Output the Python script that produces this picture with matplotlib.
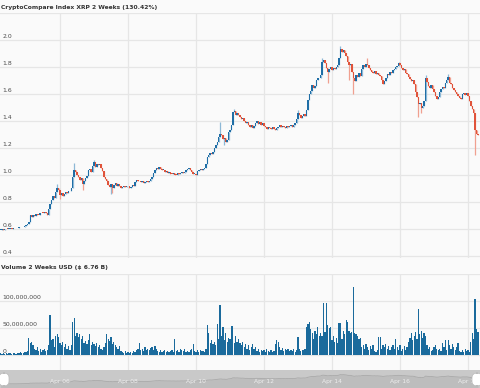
import matplotlib
matplotlib.use("Agg")
import matplotlib.pyplot as plt
from matplotlib.patches import FancyBboxPatch
import numpy as np

# ---------------- data ----------------
title = "CryptoCompare Index XRP 2 Weeks (130.42%)"
vol_title = "Volume 2 Weeks USD ($ 6.76 B)"
first_open = 0.592
closes = [
    0.595, 0.598, 0.594, 0.597, 0.600, 0.598, 0.601, 0.603, 0.600, 0.604,
    0.606, 0.604, 0.608, 0.611, 0.615, 0.612, 0.618, 0.622, 0.626, 0.637,
    0.648, 0.700, 0.690, 0.705, 0.698, 0.712, 0.706, 0.702, 0.715, 0.722,
    0.718, 0.724, 0.716, 0.700, 0.745, 0.785, 0.815, 0.842, 0.830, 0.872,
    0.905, 0.888, 0.852, 0.866, 0.848, 0.862, 0.875, 0.868, 0.882, 0.878,
    0.905, 0.985, 1.040, 1.025, 1.002, 0.985, 0.962, 0.978, 0.935, 0.952,
    0.975, 0.990, 1.035, 1.042, 1.025, 1.068, 1.095, 1.062, 1.080, 1.072,
    1.078, 1.055, 1.030, 0.985, 0.968, 0.952, 0.925, 0.910, 0.935, 0.902,
    0.925, 0.938, 0.918, 0.932, 0.920, 0.905, 0.912, 0.922, 0.908, 0.915,
    0.918, 0.905, 0.912, 0.925, 0.918, 0.948, 0.965, 0.952, 0.958, 0.945,
    0.952, 0.942, 0.948, 0.955, 0.945, 0.952, 0.968, 0.985, 1.012, 1.038,
    1.052, 1.045, 1.062, 1.048, 1.035, 1.040, 1.022, 1.028, 1.015, 1.022,
    1.010, 1.005, 1.018, 1.002, 0.998, 1.012, 1.005, 1.018, 1.022, 1.015,
    1.025, 1.038, 1.045, 1.052, 1.040, 1.022, 1.005, 1.010, 1.002, 1.028,
    1.035, 1.042, 1.038, 1.048, 1.055, 1.082, 1.135, 1.148, 1.165, 1.155,
    1.172, 1.198, 1.225, 1.248, 1.285, 1.302, 1.295, 1.265, 1.272, 1.248,
    1.262, 1.318, 1.335, 1.372, 1.465, 1.472, 1.448, 1.462, 1.445, 1.428,
    1.415, 1.425, 1.402, 1.385, 1.392, 1.372, 1.355, 1.368, 1.348, 1.362,
    1.385, 1.402, 1.378, 1.392, 1.372, 1.385, 1.362, 1.355, 1.342, 1.358,
    1.345, 1.338, 1.352, 1.342, 1.335, 1.348, 1.355, 1.368, 1.352, 1.362,
    1.358, 1.348, 1.365, 1.352, 1.362, 1.372, 1.358, 1.368, 1.382, 1.418,
    1.462, 1.448, 1.425, 1.438, 1.452, 1.440, 1.478, 1.552, 1.598, 1.625,
    1.668, 1.648, 1.662, 1.705, 1.722, 1.715, 1.742, 1.835, 1.852, 1.828,
    1.795, 1.762, 1.785, 1.802, 1.778, 1.792, 1.785, 1.798, 1.812, 1.865,
    1.935, 1.912, 1.925, 1.905, 1.885, 1.838, 1.812, 1.825, 1.765, 1.718,
    1.695, 1.742, 1.725, 1.752, 1.735, 1.782, 1.812, 1.798, 1.825, 1.815,
    1.792, 1.775, 1.762, 1.752, 1.768, 1.745, 1.758, 1.742, 1.735, 1.705,
    1.672, 1.698, 1.722, 1.745, 1.738, 1.762, 1.755, 1.778, 1.785, 1.798,
    1.805, 1.828, 1.812, 1.792, 1.775, 1.782, 1.758, 1.745, 1.728, 1.712,
    1.698, 1.705, 1.675, 1.612, 1.575, 1.528, 1.535, 1.495, 1.512, 1.548,
    1.715, 1.692, 1.662, 1.648, 1.668, 1.635, 1.612, 1.585, 1.565, 1.578,
    1.612, 1.638, 1.655, 1.648, 1.678, 1.705, 1.728, 1.685, 1.672, 1.648,
    1.632, 1.615, 1.598, 1.585, 1.572, 1.562, 1.598, 1.605, 1.592, 1.608,
    1.582, 1.545, 1.512, 1.488, 1.462, 1.332, 1.305, 1.298,
]
# notable wick extremes: candle index -> price
wick_highs = {40: 0.93, 52: 1.09, 66: 1.11, 155: 1.39, 165: 1.49, 210: 1.48,
              227: 1.87, 240: 1.955, 259: 1.87, 281: 1.84, 300: 1.74, 316: 1.745}
wick_lows = {42: 0.82, 58: 0.89, 78: 0.86, 79: 0.87, 158: 1.22, 231: 1.68,
             246: 1.70, 249: 1.60, 295: 1.43, 297: 1.46, 335: 1.15}
volumes_m = [
    3, 2, 4, 2, 3, 2, 3, 4, 2, 3,
    3, 2, 4, 3, 5, 3, 4, 6, 5, 7,
    31, 22, 24, 18, 12, 9, 14, 8, 11, 6,
    9, 12, 8, 10, 18, 74, 28, 30, 15, 35,
    38, 33, 22, 18, 25, 14, 20, 12, 16, 10,
    18, 61, 69, 35, 40, 33, 38, 30, 36, 22,
    26, 20, 28, 38, 18, 24, 20, 16, 22, 15,
    18, 12, 10, 14, 22, 38, 30, 26, 34, 20,
    24, 18, 15, 12, 16, 8, 6, 4, 7, 3,
    5, 3, 6, 4, 8, 5, 9, 12, 22, 10,
    12, 8, 14, 10, 11, 9, 13, 15, 10, 17,
    12, 8, 6, 9, 5, 7, 10, 6, 8, 5,
    7, 9, 6, 30, 8, 10, 6, 12, 9, 7,
    11, 5, 8, 6, 9, 12, 20, 8, 6, 10,
    5, 9, 7, 8, 6, 12, 56, 40, 22, 28,
    20, 24, 18, 57, 30, 93, 35, 52, 28, 40,
    25, 32, 30, 54, 54, 22, 35, 25, 30, 22,
    18, 25, 15, 20, 12, 18, 10, 15, 20, 12,
    14, 8, 12, 6, 10, 7, 9, 5, 11, 8,
    6, 9, 5, 8, 20, 28, 24, 15, 10, 13,
    8, 12, 9, 11, 7, 10, 8, 12, 6, 10,
    34, 12, 8, 10, 9, 11, 52, 58, 62, 48,
    40, 30, 45, 38, 52, 36, 40, 35, 96, 42,
    96, 55, 50, 52, 28, 35, 25, 32, 22, 59,
    59, 30, 45, 38, 65, 62, 44, 40, 42, 126,
    40, 38, 35, 30, 32, 15, 18, 12, 20, 14,
    10, 16, 12, 18, 8, 5, 9, 34, 34, 12,
    18, 15, 20, 12, 16, 10, 14, 18, 12, 30,
    15, 10, 18, 8, 12, 16, 10, 14, 25, 32,
    40, 28, 35, 43, 30, 86, 38, 45, 32, 40,
    35, 18, 12, 15, 8, 10, 14, 18, 12, 9,
    12, 8, 22, 15, 28, 10, 28, 18, 12, 20,
    15, 10, 14, 22, 8, 6, 10, 5, 12, 7,
    9, 6, 25, 40, 30, 103, 48, 42,
]
start_hour = -42  # hours relative to Apr 06 00:00
date_labels = ["Apr 06", "Apr 08", "Apr 10", "Apr 12", "Apr 14", "Apr 16", "Apr 18"]
date_hours = [0, 48, 96, 144, 192, 240, 288]
price_ticks = [0.4, 0.6, 0.8, 1.0, 1.2, 1.4, 1.6, 1.8, 2.0]
vol_ticks = [0, 50e6, 100e6]
vol_tick_labels = ["0", "50,000,000", "100,000,000"]

# ---------------- figure ----------------
W, H = 480, 388
BG = "#fafafa"
GRID = "#e6e6e6"
UP, DOWN = "#1f6ea6", "#e0533a"
UPW, DOWNW = "#8db8d6", "#f0a090"
VOLC = "#1a6a9c"
LBL = "#4a4a4a"

plt.rcParams['font.family'] = ['DejaVu Sans']
fig = plt.figure(figsize=(W / 100, H / 100), dpi=100, facecolor=BG)

def ax_at(x0, y0, x1, y1):
    return fig.add_axes([x0 / W, 1 - y1 / H, (x1 - x0) / W, (y1 - y0) / H])

n = len(closes)
hours = np.arange(n) + start_hour
opens = np.array([first_open] + closes[:-1])
cl = np.array(closes)
highs = np.maximum(opens, cl)
lows = np.minimum(opens, cl)
for k, v in wick_highs.items():
    highs[k] = v
for k, v in wick_lows.items():
    lows[k] = v
up = cl >= opens

XL = (-42.35, 296.47)
xlab = 2.5 / 480 * (XL[1] - XL[0]) + XL[0]

# price panel
ax = ax_at(0, 13, 480, 258)
ax.set_facecolor(BG)
ax.set_xlim(*XL)
ax.set_ylim(0.385, 2.2)
for s in ax.spines.values():
    s.set_visible(False)
ax.set_xticks([]); ax.set_yticks([])
for t in price_ticks + [2.2]:
    ax.axhline(t, color=GRID, lw=0.9, zorder=0)
for h in date_hours:
    ax.axvline(h, color=GRID, lw=0.9, zorder=0)
for t in price_ticks:
    ax.text(xlab, t + 0.008, f"{t:.1f}", fontsize=4.4, color=LBL,
            va="bottom", ha="left")
wc = [UPW if u else DOWNW for u in up]
ax.vlines(hours, lows, highs, colors=wc, lw=0.9, zorder=2)
bh = np.maximum(np.abs(cl - opens), 0.006)
ax.bar(hours, bh, bottom=np.minimum(opens, cl), width=1.0,
       color=[UP if u else DOWN for u in up], lw=0, zorder=3)

fig.text(1 / W, 1 - 8 / H, title, fontsize=4.3, fontweight="bold",
         color="#333333", va="center", ha="left")
fig.text(1 / W, 1 - 268 / H, vol_title, fontsize=4.3, fontweight="bold",
         color="#333333", va="center", ha="left")

# volume panel
axv = ax_at(0, 274, 480, 370)
axv.set_facecolor(BG)
axv.set_xlim(*XL)
scale = 150e6 / (355 - 274)
axv.set_ylim(-(370 - 355) * scale, 150e6)
for s in axv.spines.values():
    s.set_visible(False)
axv.set_xticks([]); axv.set_yticks([])
for t in vol_ticks + [150e6]:
    axv.axhline(t, color=GRID, lw=0.9, zorder=0)
for h in date_hours:
    axv.axvline(h, color=GRID, lw=0.9, zorder=0)
axv.bar(hours, np.array(volumes_m) * 1e6, width=0.9, color=VOLC, lw=0, zorder=2)
for t, lab in zip(vol_ticks, vol_tick_labels):
    axv.text(xlab, t + 2.5e6, lab, fontsize=4.4, color=LBL,
             va="bottom", ha="left", zorder=4)

# navigator
axn = ax_at(0, 370, 480, 388)
axn.set_xlim(*XL)
axn.set_ylim(0.0, 2.6)
axn.set_facecolor("#c9c9c9")
for s in axn.spines.values():
    s.set_visible(False)
axn.set_xticks([]); axn.set_yticks([])
axn.fill_between(hours, 0, cl, color="#bdbdbd", lw=0)
axn.plot(hours, cl, color="#a9a9a9", lw=0.6)
for h, lab in zip(date_hours, date_labels):
    axn.text(h, 1.0, lab, fontsize=4.3, color="#eeeeee", ha="center", va="center")
for xc in (4, 477):
    c = FancyBboxPatch(((xc - 5) / W, 1 - 386 / H), 10 / W, 13 / H,
                       boxstyle="round,pad=0,rounding_size=0.012",
                       transform=fig.transFigure, facecolor="white",
                       edgecolor="#bbbbbb", lw=0.5)
    fig.patches.append(c)

fig.savefig("out.png", dpi=100, facecolor=BG)
